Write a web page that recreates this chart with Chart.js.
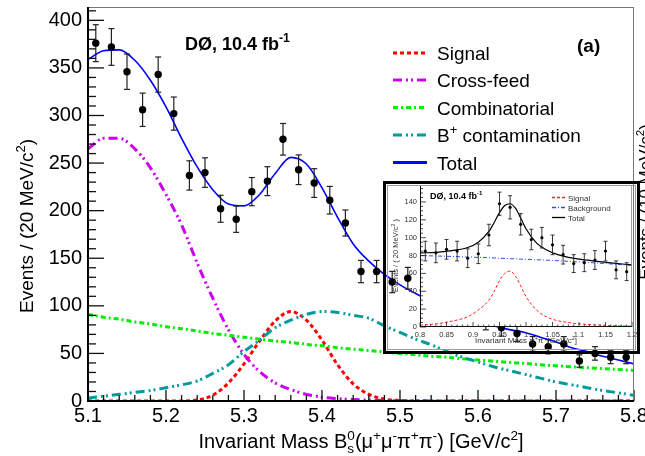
<!DOCTYPE html>
<html>
<head>
<meta charset="utf-8">
<script src="https://cdn.jsdelivr.net/npm/chart.js@4.4.1/dist/chart.umd.min.js"></script>
<style>
  html, body { margin: 0; padding: 0; background: #fff; }
  #wrap { position: relative; width: 645px; height: 456px; overflow: hidden; background: #fff; }
  #main { position: absolute; left: 0; top: 0; }
  #inset { position: absolute; left: 383px; top: 181px; }
  #insetBox { position: absolute; left: 383px; top: 181px; width: 257px; height: 173px; box-sizing: border-box; border: 3px solid #000; pointer-events: none; }
  #insetInner { position: absolute; left: 387px; top: 185px; width: 249px; height: 165px; box-sizing: border-box; border: 1px solid #999; pointer-events: none; }
</style>
</head>
<body>
<div id="wrap">
  <canvas id="main" width="645" height="456"></canvas>
  <canvas id="inset" width="257" height="172"></canvas>
  <div id="insetInner"></div>
  <div id="insetBox"></div>
</div>
<script>
const FONT = '"Liberation Sans", Arial, Helvetica, sans-serif';

// main panel: B_s0 -> mu mu pi pi candidates, 20 MeV bins
const massBins = [5.11, 5.13, 5.15, 5.17, 5.19, 5.21, 5.23, 5.25, 5.27, 5.29, 5.31, 5.33, 5.35, 5.37, 5.39, 5.41, 5.43, 5.45,
                  5.47, 5.49, 5.51, 5.53, 5.55, 5.57, 5.59, 5.61, 5.63, 5.65, 5.67, 5.69, 5.71, 5.73, 5.75, 5.77, 5.79];
const events = [376, 372, 346, 306, 343, 302, 237, 240, 202, 191, 220, 231, 275, 243, 229, 211, 187, 136,
                136, 125, 129, 116, 104, 99, 88, 84, 77, 71, 60, 57, 60, 42, 50, 46, 46];
const eventErrors = [19.4, 19.3, 18.6, 17.5, 18.5, 17.4, 15.4, 15.5, 14.2, 13.8, 14.8, 15.2, 16.6, 15.6, 15.1, 14.5, 13.7, 11.7,
                     11.7, 11.2, 11.4, 10.8, 10.2, 9.9, 9.4, 9.2, 8.8, 8.4, 7.7, 7.5, 7.7, 6.5, 7.1, 6.8, 6.8];

// fit curves, read every 20 MeV
const curveMass = [5.10, 5.12, 5.14, 5.16, 5.18, 5.20, 5.22, 5.24, 5.26, 5.28, 5.30, 5.32, 5.34, 5.36, 5.38, 5.40, 5.42, 5.44,
                   5.46, 5.48, 5.50, 5.52, 5.54, 5.56, 5.58, 5.60, 5.62, 5.64, 5.66, 5.68, 5.70, 5.72, 5.74, 5.76, 5.78, 5.80];
const signal = [0, 0, 0, 0, 0, 0, 0, 1, 6, 19, 39, 63, 84, 94, 85, 64, 38, 18,
                7, 2, 0.5, 0, 0, 0, 0, 0, 0, 0, 0, 0, 0, 0, 0, 0, 0, 0];
const crossFeed = [265, 276, 276, 265, 245, 217, 185, 145, 108, 75, 49, 31, 19, 12, 7, 4, 2.5, 1.5,
                   1, 0.5, 0.3, 0.2, 0.1, 0, 0, 0, 0, 0, 0, 0, 0, 0, 0, 0, 0, 0];
const combinatorial = [91, 88, 86, 83, 81, 78, 76, 73.5, 71, 69, 67, 65, 63, 61.5, 59.5, 58, 56, 54.5,
                       53, 51.5, 50, 48.5, 47, 46, 44.5, 43, 42, 40.5, 39.5, 38, 37, 36, 35, 34, 33, 32];
const bPlusContamination = [3, 5, 7, 9, 11, 14, 17, 21, 29, 38, 52, 64, 77, 85, 91, 94, 93, 90,
                            87, 79, 72, 65, 59, 52, 46, 41, 36, 32, 28, 24, 20, 17, 14, 11, 8.5, 6];
const total = [359, 368, 369, 358, 337, 309, 276, 246, 222, 207, 205, 217, 239, 256, 249, 224, 193, 165,
               147, 133, 122, 113, 105, 97, 90, 84, 79, 75, 72, 67, 62, 56, 52, 47, 43, 39];

const xTickLabels = [5.1, 5.2, 5.3, 5.4, 5.5, 5.6, 5.7, 5.8];
const yTickLabels = [0, 50, 100, 150, 200, 250, 300, 350, 400];
const legendLabels = ['Signal', 'Cross-feed', 'Combinatorial', 'B+ contamination', 'Total'];

// inset: pi+ pi- invariant mass
const insetMass = [0.81, 0.83, 0.85, 0.87, 0.89, 0.91, 0.93, 0.95, 0.97, 0.99, 1.01, 1.03, 1.05, 1.07, 1.09, 1.11, 1.13, 1.15, 1.17, 1.19];
const insetEvents = [85, 83, 87, 85, 77, 82, 103, 138, 134, 115, 98, 100, 92, 81, 71, 72, 75, 85, 64, 62];
const insetErrors = [11, 11, 11, 11, 10.5, 11, 12, 13, 13, 12, 11.5, 11.5, 11, 10.5, 10, 10, 10.5, 11, 10, 10];
const insetCurveX = [0.80, 0.83, 0.86, 0.89, 0.91, 0.93, 0.94, 0.95, 0.96, 0.97, 0.98, 0.99, 1.00, 1.02, 1.04, 1.06, 1.08, 1.10, 1.13, 1.16, 1.20];
const insetSignal = [2, 3.5, 6.5, 11.5, 19, 30, 40, 52, 60, 62.5, 57, 46, 34, 19, 11, 7, 5, 3.5, 2.5, 1.5, 1];
const insetBackground = [80, 79.5, 79, 78.3, 78, 77.6, 77.3, 77, 76.8, 76.5, 76.3, 76, 75.8, 75.3, 74.8, 74.2, 73.6, 72.9, 71.8, 70.6, 69];
const insetTotal = [83, 83.5, 85.5, 89, 95, 107, 117, 128, 136, 138, 133, 122, 110, 94, 86, 81, 78, 76, 73.8, 71.8, 69.5];
const insetXTicks = [0.8, 0.85, 0.9, 0.95, 1.0, 1.05, 1.1, 1.15, 1.2];
const insetYTicks = [0, 20, 40, 60, 80, 100, 120, 140];
const insetLegendLabels = ['Signal', 'Background', 'Total'];

const pts = (xs, ys) => xs.map((x, i) => ({ x: x, y: ys[i] }));

function line(ctx, x1, y1, x2, y2) {
  ctx.beginPath(); ctx.moveTo(x1, y1); ctx.lineTo(x2, y2); ctx.stroke();
}

// text with super/subscripts; parts = [[text, mode]], mode '', 'sup', 'sub', 'both' ([sup, sub])
function drawRich(ctx, parts, x, y, size, weight, align) {
  const small = size * 0.68;
  const f = s => `${weight} ${s}px ${FONT}`;
  const widths = parts.map(([t, m]) => {
    ctx.font = f(m ? small : size);
    if (m === 'both') return Math.max(ctx.measureText(t[0]).width, ctx.measureText(t[1]).width);
    return ctx.measureText(t).width;
  });
  const w = widths.reduce((a, b) => a + b, 0);
  let cx = align === 'center' ? x - w / 2 : align === 'right' ? x - w : x;
  ctx.textAlign = 'left';
  ctx.textBaseline = 'alphabetic';
  parts.forEach(([t, m], i) => {
    if (!m) { ctx.font = f(size); ctx.fillText(t, cx, y); }
    else {
      ctx.font = f(small);
      if (m === 'sup' || m === 'both') ctx.fillText(m === 'both' ? t[0] : t, cx, y - size * 0.42);
      if (m === 'sub' || m === 'both') ctx.fillText(m === 'both' ? t[1] : t, cx, y + size * 0.24);
    }
    cx += widths[i];
  });
}

function labelParts(txt) {
  if (txt.startsWith('B+')) return [['B', ''], ['+', 'sup'], [txt.slice(2), '']];
  return [[txt, '']];
}

function drawErrorBars(chart, xs, ys, errs, cap, width) {
  const { ctx, scales: { x, y } } = chart;
  ctx.save();
  ctx.strokeStyle = '#222';
  ctx.lineWidth = width;
  xs.forEach((m, i) => {
    const px = x.getPixelForValue(m);
    const lo = y.getPixelForValue(ys[i] - errs[i]);
    const hi = y.getPixelForValue(ys[i] + errs[i]);
    line(ctx, px, lo, px, hi);
    line(ctx, px - cap, lo, px + cap, lo);
    line(ctx, px - cap, hi, px + cap, hi);
  });
  ctx.restore();
}

const mainDecor = {
  id: 'mainDecor',
  beforeDatasetDraw(chart, args) {
    if (args.index === 0) drawErrorBars(chart, massBins, events, eventErrors, 3, 1.2);
  },
  afterDraw(chart) {
    const { ctx, chartArea: a, scales: { x, y } } = chart;
    ctx.save();
    // ticks inside the frame
    ctx.strokeStyle = '#111';
    ctx.lineWidth = 1.3;
    for (let v = 0; v <= y.max; v += 10) {
      const py = y.getPixelForValue(v);
      line(ctx, a.left, py, a.left + (v % 50 === 0 ? 16 : 8), py);
    }
    for (let k = 0; k <= 35; k++) {
      const px = x.getPixelForValue(5.1 + k * 0.02);
      line(ctx, px, a.bottom, px, a.bottom - (k % 5 === 0 ? 11 : 6));
    }
    // frame
    ctx.strokeStyle = '#777';
    ctx.lineWidth = 1;
    line(ctx, a.left, a.top + 0.5, a.right, a.top + 0.5);
    line(ctx, a.right - 0.5, a.top, a.right - 0.5, a.bottom);
    ctx.strokeStyle = '#000';
    ctx.lineWidth = 2;
    line(ctx, a.left, a.top, a.left, a.bottom + 1);
    line(ctx, a.left - 1, a.bottom, a.right, a.bottom);

    ctx.fillStyle = '#000';
    drawRich(ctx, [['DØ, 10.4 fb', ''], ['-1', 'sup']], 185, 49.5, 18, 'bold', 'left');
    ctx.font = `bold 19px ${FONT}`;
    ctx.fillText('(a)', 577, 52);

    // legend
    const rowsY = [53, 80, 107.5, 135, 162.5];
    legendLabels.forEach((lab, i) => {
      const ds = chart.data.datasets.find(d => d.label === lab);
      ctx.save();
      ctx.strokeStyle = ds.borderColor;
      ctx.lineWidth = 3;
      ctx.setLineDash(ds.borderDash || []);
      line(ctx, 393, rowsY[i], 427, rowsY[i]);
      ctx.restore();
      ctx.fillStyle = '#000';
      drawRich(ctx, labelParts(lab), 437, rowsY[i] + 7, 19, 'normal', 'left');
    });

    // axis titles
    drawRich(ctx, [['Invariant Mass B', ''], [['0', 's'], 'both'], ['(μ', ''], ['+', 'sup'], ['μ', ''], ['-', 'sup'],
                   ['π', ''], ['+', 'sup'], ['π', ''], ['-', 'sup'], [') [GeV/c', ''], ['2', 'sup'], [']', '']],
             361, 448, 20, 'normal', 'center');
    ctx.save();
    ctx.translate(33, 226);
    ctx.rotate(-Math.PI / 2);
    drawRich(ctx, [['Events / (20 MeV/c', ''], ['2', 'sup'], [')', '']], 0, 0, 19, 'normal', 'center');
    ctx.restore();
    // neighbouring panel's axis title, cut by the page edge
    ctx.save();
    ctx.translate(651, 202);
    ctx.rotate(-Math.PI / 2);
    drawRich(ctx, [['Events / (10 MeV/c', ''], ['2', 'sup'], [')', '']], 0, 0, 17, 'normal', 'center');
    ctx.restore();
    ctx.restore();
  }
};

const curveStyle = { pointRadius: 0, fill: false, borderCapStyle: 'butt', cubicInterpolationMode: 'monotone' };

new Chart(document.getElementById('main'), {
  type: 'line',
  data: {
    datasets: [
      { label: 'Data', data: pts(massBins, events), showLine: false, pointRadius: 3.7,
        pointBackgroundColor: '#000', pointBorderColor: '#000', pointBorderWidth: 0 },
      Object.assign({ label: 'Total', data: pts(curveMass, total), borderColor: '#0000ff', borderWidth: 1.6 }, curveStyle),
      Object.assign({ label: 'B+ contamination', data: pts(curveMass, bPlusContamination), borderColor: '#009b9b',
                      borderWidth: 3, borderDash: [9, 4, 2, 3, 2, 4] }, curveStyle),
      Object.assign({ label: 'Combinatorial', data: pts(curveMass, combinatorial), borderColor: '#00ee00',
                      borderWidth: 3, borderDash: [5, 3, 2, 3] }, curveStyle),
      Object.assign({ label: 'Cross-feed', data: pts(curveMass, crossFeed), borderColor: '#cc00f0',
                      borderWidth: 3, borderDash: [9, 4, 2, 3, 2, 4] }, curveStyle),
      Object.assign({ label: 'Signal', data: pts(curveMass, signal), borderColor: '#ff0000',
                      borderWidth: 3, borderDash: [4, 3] }, curveStyle)
    ]
  },
  options: {
    responsive: false,
    animation: false,
    devicePixelRatio: 1,
    layout: { padding: { top: 7, right: 11, left: 0, bottom: 0 } },
    plugins: { legend: { display: false }, tooltip: { enabled: false } },
    scales: {
      x: {
        type: 'linear', min: 5.1, max: 5.8,
        grid: { display: false, drawTicks: false }, border: { display: false },
        afterBuildTicks: s => { s.ticks = xTickLabels.map(v => ({ value: v })); },
        afterFit: s => { s.height = 55; s.paddingLeft = 0; s.paddingRight = 0; },
        ticks: { autoSkip: false, maxRotation: 0, padding: 3, color: '#000',
                 font: { family: FONT, size: 20 }, callback: v => v.toFixed(1) }
      },
      y: {
        min: 0, max: 414,
        grid: { display: false, drawTicks: false }, border: { display: false },
        afterBuildTicks: s => { s.ticks = yTickLabels.map(v => ({ value: v })); },
        afterFit: s => { s.width = 88; s.paddingTop = 0; s.paddingBottom = 0; },
        ticks: { padding: 6, color: '#000', font: { family: FONT, size: 20 }, callback: v => String(v) }
      }
    }
  },
  plugins: [mainDecor]
});

const insetDecor = {
  id: 'insetDecor',
  beforeDraw(chart) {
    const { ctx, chartArea: a } = chart;
    ctx.save();
    ctx.fillStyle = '#fff';
    ctx.fillRect(a.left, a.top, a.right - a.left, a.bottom - a.top);
    ctx.restore();
  },
  beforeDatasetDraw(chart, args) {
    if (args.index === 0) drawErrorBars(chart, insetMass, insetEvents, insetErrors, 2, 0.9);
  },
  afterDraw(chart) {
    const { ctx, chartArea: a, scales: { x, y } } = chart;
    ctx.save();
    ctx.strokeStyle = '#222';
    ctx.lineWidth = 0.8;
    for (let v = 0; v <= y.max; v += 5) {
      const py = y.getPixelForValue(v);
      line(ctx, a.left, py, a.left + (v % 20 === 0 ? 6 : 3), py);
    }
    for (let k = 0; k <= 40; k++) {
      const px = x.getPixelForValue(0.8 + k * 0.01);
      line(ctx, px, a.bottom, px, a.bottom - (k % 5 === 0 ? 5 : 2.5));
    }
    ctx.strokeStyle = '#888';
    line(ctx, a.left, a.top + 0.5, a.right, a.top + 0.5);
    line(ctx, a.right - 0.5, a.top, a.right - 0.5, a.bottom);
    ctx.strokeStyle = '#111';
    ctx.lineWidth = 1;
    line(ctx, a.left + 0.5, a.top, a.left + 0.5, a.bottom);
    line(ctx, a.left, a.bottom - 0.5, a.right, a.bottom - 0.5);

    ctx.fillStyle = '#000';
    drawRich(ctx, [['DØ, 10.4 fb', ''], ['-1', 'sup']], 47, 18, 9, 'bold', 'left');

    const rowsY = [16.5, 26.5, 36.5];
    insetLegendLabels.forEach((lab, i) => {
      const ds = chart.data.datasets.find(d => d.label === lab);
      ctx.save();
      ctx.strokeStyle = ds.borderColor;
      ctx.lineWidth = 1.3;
      ctx.setLineDash(ds.borderDash || []);
      line(ctx, 169, rowsY[i], 182, rowsY[i]);
      ctx.restore();
      ctx.fillStyle = '#333';
      drawRich(ctx, [[lab, '']], 185, rowsY[i] + 3, 8, 'normal', 'left');
    });

    ctx.fillStyle = '#333';
    drawRich(ctx, [['Invariant Mass π', ''], ['+', 'sup'], ['π', ''], ['-', 'sup'], [' [GeV/c', ''], ['2', 'sup'], [']', '']],
             143, 162, 8, 'normal', 'center');
    ctx.save();
    ctx.translate(15, 74.5);
    ctx.rotate(-Math.PI / 2);
    drawRich(ctx, [['Events / ( 20 MeV/c', ''], ['2', 'sup'], [' )', '']], 0, 0, 7.5, 'normal', 'center');
    ctx.restore();
    ctx.restore();
  }
};

new Chart(document.getElementById('inset'), {
  type: 'line',
  data: {
    datasets: [
      { label: 'Data', data: pts(insetMass, insetEvents), showLine: false, pointRadius: 1.6,
        pointBackgroundColor: '#000', pointBorderColor: '#000', pointBorderWidth: 0 },
      Object.assign({ label: 'Total', data: pts(insetCurveX, insetTotal), borderColor: '#000', borderWidth: 1.2 }, curveStyle),
      Object.assign({ label: 'Background', data: pts(insetCurveX, insetBackground), borderColor: '#2a4dff',
                      borderWidth: 1, borderDash: [4, 2, 1, 2] }, curveStyle),
      Object.assign({ label: 'Signal', data: pts(insetCurveX, insetSignal), borderColor: '#ff2020',
                      borderWidth: 1, borderDash: [3, 2] }, curveStyle)
    ]
  },
  options: {
    responsive: false,
    animation: false,
    devicePixelRatio: 1,
    layout: { padding: { top: 3, right: 8, left: 0, bottom: 0 } },
    plugins: { legend: { display: false }, tooltip: { enabled: false } },
    scales: {
      x: {
        type: 'linear', min: 0.8, max: 1.2,
        grid: { display: false, drawTicks: false }, border: { display: false },
        afterBuildTicks: s => { s.ticks = insetXTicks.map(v => ({ value: v })); },
        afterFit: s => { s.height = 26; s.paddingLeft = 0; s.paddingRight = 0; },
        ticks: { autoSkip: false, maxRotation: 0, padding: 3, color: '#333',
                 font: { family: FONT, size: 7.5 }, callback: v => String(parseFloat(v.toFixed(2))) }
      },
      y: {
        min: 0, max: 159,
        grid: { display: false, drawTicks: false }, border: { display: false },
        afterBuildTicks: s => { s.ticks = insetYTicks.map(v => ({ value: v })); },
        afterFit: s => { s.width = 37; s.paddingTop = 0; s.paddingBottom = 0; },
        ticks: { padding: 3, color: '#333', font: { family: FONT, size: 7.5 }, callback: v => String(v) }
      }
    }
  },
  plugins: [insetDecor]
});
</script>
</body>
</html>
